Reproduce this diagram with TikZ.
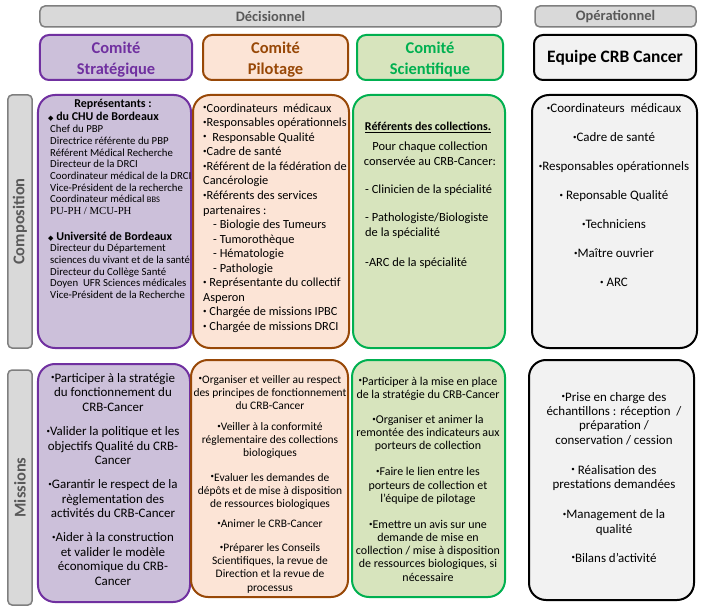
\documentclass[tikz,border=0pt]{standalone}
\usepackage{fontspec}
\setmainfont{Carlito}
\newfontfamily\tnr{Liberation Serif}
\newfontfamily\djv{DejaVu Sans}
\definecolor{grayfill}{HTML}{D9D9D9}
\definecolor{graydraw}{HTML}{7F7F7F}
\definecolor{graytext}{HTML}{595959}
\definecolor{purfill}{HTML}{CCC0DA}
\definecolor{purdraw}{HTML}{7030A0}
\definecolor{orafill}{HTML}{FCE4D6}
\definecolor{oradraw}{HTML}{984807}
\definecolor{grefill}{HTML}{D7E4BD}
\definecolor{gredraw}{HTML}{00B050}
\definecolor{opfill}{HTML}{F2F2F2}
\newcommand\bul{\raisebox{0.4ex}{\fontsize{7}{7}\selectfont\textbullet}}
\newcommand\dia{{\djv\fontsize{7}{7}\selectfont ◆}}
\begin{document}
\begin{tikzpicture}[x=1bp,y=-1bp,
  graybox/.style={draw=graydraw, fill=grayfill, line width=1.5bp, rounded corners=5bp, inner sep=0pt},
  headtxt/.style={inner sep=0pt, font=\fontsize{14.5}{16}\selectfont\bfseries, text=graytext},
  sidetxt/.style={inner sep=0pt, font=\fontsize{16.5}{18}\selectfont\bfseries, text=graytext, rotate=90},
  titlebox/.style={line width=2bp, rounded corners=9bp, inner sep=0pt, minimum height=45bp},
  bigbox/.style={line width=2bp, rounded corners=17bp, inner sep=0pt},
  titletxt/.style={inner sep=0pt, align=center, font=\fontsize{16.5}{21}\selectfont\bfseries},
  btxt/.style={inner sep=0pt, font=\fontsize{12}{14}\selectfont\bfseries},
  small/.style={inner sep=0pt, align=left, anchor=north west, font=\fontsize{10.8}{11.7}\selectfont},
]
\useasboundingbox[fill=white] (0,0) rectangle (706,609);

% headers
\node[graybox, minimum width=461bp, minimum height=21bp] (dec) at (270.5,16.5) {};
\node[headtxt] (dect) at (dec.center) {Décisionnel};
\node[graybox, minimum width=161bp, minimum height=21bp] (op) at (615.5,16.5) {};
\node[headtxt] (opt) at (op.center) {Opérationnel};

% title boxes
\node[titlebox, draw=purdraw, fill=purfill, minimum width=152bp] (tstrat) at (116,57.5) {};
\node[titletxt, text=purdraw] (tstratt) at ([yshift=-2bp]tstrat.center) {Comité\\Stratégique};
\node[titlebox, draw=oradraw, fill=orafill, minimum width=145bp] (tpil) at (275.5,57.5) {};
\node[titletxt, text=oradraw] (tpilt) at ([yshift=-2bp]tpil.center) {Comité\\Pilotage};
\node[titlebox, draw=gredraw, fill=grefill, minimum width=146bp] (tsci) at (430,57.5) {};
\node[titletxt, text=gredraw] (tscit) at ([yshift=-2bp]tsci.center) {Comité\\Scientifique};
\node[titlebox, draw=black, fill=opfill, minimum width=162bp] (teq) at (615,57.5) {};
\node[titletxt, font=\fontsize{17.5}{21}\selectfont\bfseries] (teqt) at (teq.center) {Equipe CRB Cancer};

% side labels
\node[graybox, rounded corners=4bp, minimum width=24bp, minimum height=253bp] (lcomp) at (20,221.5) {};
\node[sidetxt] (lcompt) at (lcomp.center) {Composition};
\node[graybox, rounded corners=4bp, minimum width=24bp, minimum height=235bp] (lmis) at (20,487.5) {};
\node[sidetxt] (lmist) at (lmis.center) {Missions};

% composition boxes
\node[bigbox, draw=purdraw, fill=purfill, minimum width=153bp, minimum height=253bp] (cstrat) at (114.5,221.5) {};
\node[bigbox, draw=oradraw, fill=orafill, minimum width=156bp, minimum height=253bp] (cpil) at (271,221.5) {};
\node[bigbox, draw=gredraw, fill=grefill, minimum width=152bp, minimum height=253bp] (csci) at (429,221.5) {};
\node[bigbox, draw=black, fill=opfill, minimum width=165bp, minimum height=253bp] (ceq) at (614.5,221.5) {};

% mission boxes
\node[bigbox, draw=purdraw, fill=purfill, minimum width=152bp, minimum height=238bp] (mstrat) at (114,483) {};
\node[bigbox, draw=oradraw, fill=orafill, minimum width=157bp, minimum height=237bp] (mpil) at (269.5,478.5) {};
\node[bigbox, draw=gredraw, fill=grefill, minimum width=153bp, minimum height=237bp] (msci) at (428.5,478.5) {};
\node[bigbox, draw=black, fill=opfill, minimum width=165bp, minimum height=240bp] (meq) at (611.5,480) {};

% composition texts
\node[btxt, anchor=base] (cs1) at (113,107.5) {Représentants :};
\node[btxt, anchor=base west] (cs2) at (48,121) {\dia\ du CHU de Bordeaux};
\node[small] (cs3) at (50,124.6) {\strut Chef du PBP\\
Directrice référente du PBP\\
Référent Médical Recherche\\
Directeur de la DRCI\\
Coordinateur médical de la DRCI\\
Vice-Président de la recherche\\
Coordinateur médical {\fontsize{8.5}{10}\selectfont BBS}\\
{\tnr PU-PH / MCU-PH}};
\node[btxt, anchor=base west] (cs4) at (48,240) {\dia\ Université de Bordeaux};
\node[small, font=\fontsize{10.8}{11.6}\selectfont] (cs5) at (50,243.7) {\strut Directeur du Département\\
sciences du vivant et de la santé\\
Directeur du Collège Santé\\
Doyen\ \ UFR\ Sciences médicales\\
Vice-Président de la Recherche};

\node[inner sep=0pt, anchor=north west, align=left, font=\fontsize{12.4}{14.6}\selectfont] (cp) at (203,101.8) {\strut\bul Coordinateurs\ \ médicaux\\
\bul Responsables opérationnels\\
\bul\ \ Responsable Qualité\\
\bul Cadre de santé\\
\bul Référent de la fédération de\\
Cancérologie\\
\bul Référents des services\\
partenaires :\\
\hspace*{10bp}- Biologie des Tumeurs\\
\hspace*{10bp}- Tumorothèque\\
\hspace*{10bp}- Hématologie\\
\hspace*{10bp}- Pathologie\\
\bul\ Représentante du collectif\\
Asperon\\
\bul\ Chargée de missions IPBC\\
\bul\ Chargée de missions DRCI};

\node[btxt, anchor=base] (cg1) at (428,131) {\underline{Référents des collections.}};
\node[inner sep=0pt, anchor=north, align=center, font=\fontsize{12.5}{15}\selectfont] (cg2) at (430,139.5) {\strut Pour chaque collection\\ conservée au CRB-Cancer:};
\node[inner sep=0pt, anchor=north west, align=left, font=\fontsize{12.5}{15}\selectfont] (cg3) at (365,182.5) {\strut - Clinicien de la spécialité\\[13bp]
- Pathologiste/Biologiste\\ de la spécialité\\[16bp]
-ARC de la spécialité};

\node[inner sep=0pt, anchor=north, align=center, font=\fontsize{13}{29.1}\selectfont] (ce) at (614,92.4) {\strut\bul Coordinateurs\ \ médicaux\\
\bul Cadre de santé\\
\bul Responsables opérationnels\\
\bul\ Reponsable Qualité\\
\bul Techniciens\\
\bul Maître ouvrier\\
\bul\ ARC};

% mission texts
\node[inner sep=0pt, anchor=north, align=center, font=\fontsize{13}{14.6}\selectfont] (ms) at (113,372) {\strut\bul Participer à la stratégie\\ du fonctionnement du\\ CRB-Cancer\\[9.5bp]
\bul Valider la politique et les\\ objectifs Qualité du CRB-\\ Cancer\\[9.5bp]
\bul Garantir le respect de la\\ règlementation des\\ activités du CRB-Cancer\\[9.5bp]
\bul Aider à la construction\\ et valider le modèle\\ économique du CRB-\\ Cancer};

\node[inner sep=0pt, anchor=north, align=center, font=\fontsize{11.5}{13.2}\selectfont] (mp) at (270,373.7) {\strut\bul Organiser et veiller au respect\\ des principes de fonctionnement\\ du CRB-Cancer\\[8bp]
\bul Veiller à la conformité\\ réglementaire des collections\\ biologiques\\[11bp]
\bul Evaluer les demandes de\\ dépôts et de mise à disposition\\ de ressources biologiques\\[7bp]
\bul Animer le CRB-Cancer\\[11bp]
\bul Préparer les Conseils\\ Scientifiques, la revue de\\ Direction et la revue de\\ processus};

\node[inner sep=0pt, anchor=north, align=center, font=\fontsize{12}{13.2}\selectfont] (mg) at (428,375.8) {\strut\bul Participer à la mise en place\\ de la stratégie du CRB-Cancer\\[12bp]
\bul Organiser et animer la\\ remontée des indicateurs aux\\ porteurs de collection\\[13bp]
\bul Faire le lien entre les\\ porteurs de collection et\\ l’équipe de pilotage\\[13bp]
\bul Emettre un avis sur une\\ demande de mise en\\ collection / mise à disposition\\ de ressources biologiques, si\\ nécessaire};

\node[inner sep=0pt, anchor=north, align=center, font=\fontsize{13}{14.3}\selectfont] (me) at (614,391.2) {\strut\bul Prise en charge des\\ échantillons : réception\ \ /\\ préparation /\\ conservation / cession\\[16bp]
\bul\ Réalisation des\\ prestations demandées\\[16bp]
\bul Management de la\\ qualité\\[15bp]
\bul Bilans d’activité};
\end{tikzpicture}
\end{document}
